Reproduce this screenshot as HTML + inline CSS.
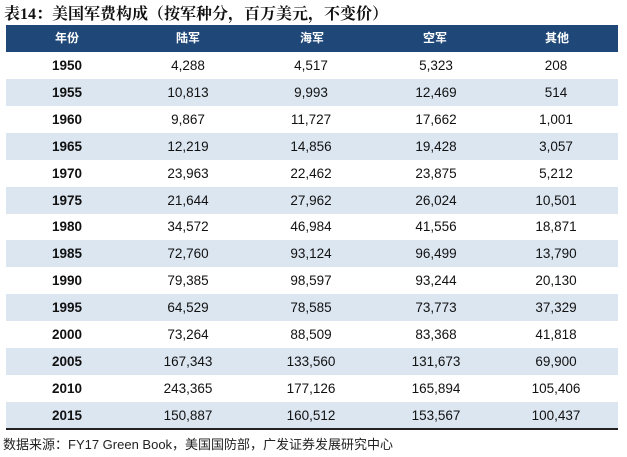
<!DOCTYPE html>
<html><head><meta charset="utf-8"><style>
body{margin:0;width:627px;height:457px;background:#fff;position:relative;overflow:hidden;font-family:"Liberation Sans","Noto Sans CJK SC",sans-serif}
.t{position:absolute;left:4px;top:1px;font:bold 16px "Liberation Serif","Noto Serif CJK SC",serif;color:#111}
.h{position:absolute;left:6px;width:612px;top:25px;height:27px;background:#1f4778}
.r{position:absolute;left:6px;width:612px;height:27px}
.s{background:#dce6f1}
.c{position:absolute;top:0;width:120px;margin-left:-60px;text-align:center;font-size:13.5px;color:#111;line-height:27px}
.h .c{color:#fff;font-weight:bold;font-size:12px;line-height:27px}
.y{font-weight:bold}
.b{position:absolute;left:6px;width:612px;top:428px;height:2px;background:#222}
.f{position:absolute;left:3px;top:434px;font-size:13px;color:#222}
</style></head><body>
<div class="t">表14：美国军费构成（按军种分，百万美元，不变价）</div>
<div class="h"><span class="c" style="left:61px">年份</span><span class="c" style="left:182px">陆军</span><span class="c" style="left:306px">海军</span><span class="c" style="left:429px">空军</span><span class="c" style="left:551px">其他</span></div>
<div id="rows"></div>
<div class="b"></div>
<div class="f">数据来源：FY17 Green Book，美国国防部，广发证券发展研究中心</div>
<script>
var d=[["1950","4,288","4,517","5,323","208"],["1955","10,813","9,993","12,469","514"],["1960","9,867","11,727","17,662","1,001"],["1965","12,219","14,856","19,428","3,057"],["1970","23,963","22,462","23,875","5,212"],["1975","21,644","27,962","26,024","10,501"],["1980","34,572","46,984","41,556","18,871"],["1985","72,760","93,124","96,499","13,790"],["1990","79,385","98,597","93,244","20,130"],["1995","64,529","78,585","73,773","37,329"],["2000","73,264","88,509","83,368","41,818"],["2005","167,343","133,560","131,673","69,900"],["2010","243,365","177,126","165,894","105,406"],["2015","150,887","160,512","153,567","100,437"]];
var x=[61,182,305,430,550],h="";
d.forEach(function(r,i){h+='<div class="r'+(i%2?' s':'')+'" style="top:'+(52+i*26.9)+'px">';r.forEach(function(v,j){h+='<span class="c'+(j?'':' y')+'" style="left:'+x[j]+'px">'+v+'</span>'});h+='</div>'});
document.getElementById('rows').innerHTML=h;
</script>
</body></html>
